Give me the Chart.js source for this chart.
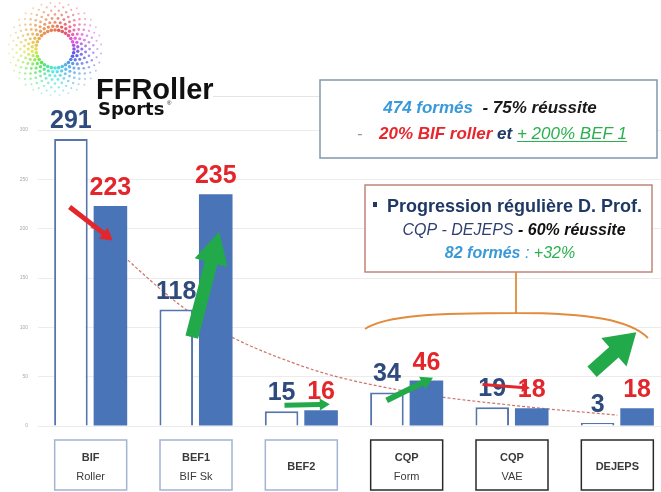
<!DOCTYPE html>
<html lang="fr">
<head>
<meta charset="UTF-8">
<title>Formations FFRoller Sports</title>
<style>
  html, body { margin: 0; padding: 0; background: #fff; overflow: hidden; }
  canvas { display: block; }
</style>
</head>
<body>
<canvas id="chart" width="670" height="492"></canvas>
<script src="https://cdn.jsdelivr.net/npm/chart.js"></script>
<script>
const categories = [['BIF', 'Roller'], ['BEF1', 'BIF Sk'], ['BEF2'], ['CQP', 'Form'], ['CQP', 'VAE'], ['DEJEPS']];
const previousValues = [291, 118, 15, 34, 19, 3];
const currentValues = [223, 235, 16, 46, 18, 18];
const trendValues = [202, 111, 61, 35, 21, 11];
const yTicks = [0, 50, 100, 150, 200, 250, 300];

// arrows in chart units: x = category index (fractional), y = value
const arrows = [
  { from: [-0.2, 222], to: [0.21, 188], shaft: 5, head: 14, len: 12, color: '#e3262b' },
  { from: [0.96, 90], to: [1.22, 197], shaft: 13, head: 34, len: 32, color: '#22aa4a' },
  { from: [1.84, 21], to: [2.27, 22], shaft: 5, head: 12, len: 10, color: '#22aa4a' },
  { from: [2.81, 26], to: [3.25, 49], shaft: 6, head: 14, len: 12, color: '#22aa4a' },
  { from: [3.72, 42], to: [4.17, 38.5], shaft: 3, head: 9, len: 8, color: '#e3262b' },
  { from: [4.76, 55], to: [5.18, 95], shaft: 14, head: 38, len: 30, color: '#22aa4a' }
];

function drawArrow(ctx, x1, y1, x2, y2, shaft, headW, headL, color) {
  const a = Math.atan2(y2 - y1, x2 - x1);
  const len = Math.hypot(x2 - x1, y2 - y1);
  ctx.save();
  ctx.translate(x1, y1);
  ctx.rotate(a);
  ctx.fillStyle = color;
  ctx.beginPath();
  ctx.moveTo(0, -shaft / 2);
  ctx.lineTo(len - headL, -shaft / 2);
  ctx.lineTo(len - headL, -headW / 2);
  ctx.lineTo(len, 0);
  ctx.lineTo(len - headL, headW / 2);
  ctx.lineTo(len - headL, shaft / 2);
  ctx.lineTo(0, shaft / 2);
  ctx.closePath();
  ctx.fill();
  ctx.restore();
}

// draw a line made of coloured pieces
function drawRuns(ctx, runs, x, y, align) {
  let total = 0;
  runs.forEach(r => { ctx.font = r.font; r.w = ctx.measureText(r.text).width; total += r.w; });
  let cx = align === 'center' ? x - total / 2 : x;
  ctx.textAlign = 'left';
  ctx.textBaseline = 'alphabetic';
  runs.forEach(r => {
    ctx.font = r.font;
    ctx.fillStyle = r.color;
    ctx.fillText(r.text, cx, y);
    if (r.underline) {
      ctx.fillRect(cx, y + 2, r.w, 1);
    }
    cx += r.w;
  });
}

function hueAt(ang) {
  const stops = [[0, 15], [45, -25], [90, -100], [135, -150], [180, -180], [225, -240], [270, -305], [315, -330], [360, -345]];
  for (let i = 1; i < stops.length; i++) {
    if (ang <= stops[i][0]) {
      const t = (ang - stops[i - 1][0]) / (stops[i][0] - stops[i - 1][0]);
      return ((stops[i - 1][1] + t * (stops[i][1] - stops[i - 1][1])) % 360 + 360) % 360;
    }
  }
  return 15;
}

function drawLogo(ctx) {
  const cx = 55, cy = 49;
  for (let k = 0; k < 8; k++) {
    const r = 19 + k * 3.9;
    const n = 32;
    const dot = 1.8 - k * 0.12;
    for (let j = 0; j < n; j++) {
      const ang = (j + (k % 2) * 0.5) / n * 360;
      const rad = (ang - 90) * Math.PI / 180;
      ctx.fillStyle = `hsla(${hueAt(ang)}, 75%, 55%, ${0.85 - k * 0.07})`;
      ctx.beginPath();
      ctx.arc(cx + r * Math.cos(rad), cy + r * Math.sin(rad), dot, 0, 2 * Math.PI);
      ctx.fill();
    }
  }
  ctx.fillStyle = '#111';
  ctx.textAlign = 'left';
  ctx.textBaseline = 'alphabetic';
  ctx.font = 'bold 29px "Liberation Sans", Arial, sans-serif';
  ctx.fillText('FFRoller', 96, 99);
  ctx.font = 'bold 18px "DejaVu Sans", sans-serif';
  ctx.fillText('Sports', 98, 115);
  ctx.font = '6px sans-serif';
  ctx.fillText('®', 167, 105);
  ctx.fillStyle = '#e4e4e4';
  ctx.fillRect(213, 96, 107, 1);
}

const decor = {
  id: 'decor',
  afterDatasetsDraw(chart) {
    const ctx = chart.ctx;
    const xs = chart.scales.x, ys = chart.scales.y;
    const step = xs.getPixelForValue(1) - xs.getPixelForValue(0);
    const px = i => xs.getPixelForValue(0) + i * step;

    // value labels
    const labelFont = 'bold 25px "Liberation Sans", Arial, sans-serif';
    [[0, '#2f4a7c'], [1, '#e3262b']].forEach(([d, color]) => {
      chart.getDatasetMeta(d).data.forEach((bar, i) => {
        ctx.font = labelFont;
        ctx.fillStyle = color;
        ctx.textAlign = 'center';
        ctx.textBaseline = 'alphabetic';
        const v = chart.data.datasets[d].data[i];
        ctx.fillText(String(v), bar.x, bar.y - 11);
      });
    });

    arrows.forEach(a => {
      drawArrow(ctx, px(a.from[0]), ys.getPixelForValue(a.from[1]),
        px(a.to[0]), ys.getPixelForValue(a.to[1]), a.shaft, a.head, a.len, a.color);
    });

    // category boxes
    chart.data.labels.forEach((lines, i) => {
      const x = xs.getPixelForValue(i);
      ctx.fillStyle = '#fff';
      ctx.strokeStyle = i < 3 ? '#a3b3d2' : '#2a2a2a';
      ctx.lineWidth = 1.5;
      ctx.fillRect(x - 36, 440, 72, 50);
      ctx.strokeRect(x - 36, 440, 72, 50);
      ctx.fillStyle = '#3a3a3a';
      ctx.textAlign = 'center';
      ctx.textBaseline = 'middle';
      if (lines.length === 1) {
        ctx.font = 'bold 11px "Liberation Sans", Arial, sans-serif';
        ctx.fillText(lines[0], x, 467);
      } else {
        ctx.font = 'bold 11px "Liberation Sans", Arial, sans-serif';
        ctx.fillText(lines[0], x, 458);
        ctx.font = '11px "Liberation Sans", Arial, sans-serif';
        ctx.fillText(lines[1], x, 477);
      }
    });
  },
  afterDraw(chart) {
    const ctx = chart.ctx;
    drawLogo(ctx);

    const f = (style, size) => `${style} ${size}px "Liberation Sans", Arial, sans-serif`;

    // box 1
    ctx.fillStyle = '#fff';
    ctx.fillRect(320, 80, 337, 78);
    ctx.strokeStyle = '#8496b0';
    ctx.lineWidth = 1.5;
    ctx.strokeRect(320, 80, 337, 78);
    drawRuns(ctx, [
      { text: '474 formés', font: f('italic bold', 17), color: '#3a9ad9' },
      { text: '  - 75% réussite', font: f('italic bold', 17), color: '#1a1a1a' }
    ], 490, 113, 'center');
    drawRuns(ctx, [{ text: '-', font: f('italic', 16), color: '#999' }], 357, 139, 'left');
    drawRuns(ctx, [
      { text: '20% BIF roller', font: f('italic bold', 17), color: '#e8262d' },
      { text: ' et ', font: f('italic bold', 17), color: '#1f3864' },
      { text: '+ 200% BEF 1', font: f('italic', 17), color: '#2bb04e', underline: true }
    ], 379, 139, 'left');

    // box 2
    ctx.fillStyle = '#fff';
    ctx.fillRect(365, 185, 287, 87);
    ctx.strokeStyle = '#c0847a';
    ctx.strokeRect(365, 185, 287, 87);
    ctx.fillStyle = '#1f3864';
    ctx.fillRect(373, 202, 4, 5);
    drawRuns(ctx, [{ text: 'Progression régulière D. Prof.', font: f('bold', 18), color: '#1f3864' }], 387, 212, 'left');
    drawRuns(ctx, [
      { text: 'CQP - DEJEPS', font: f('italic', 16), color: '#2f3f6f' },
      { text: ' - 60% réussite', font: f('italic bold', 16), color: '#111' }
    ], 514, 235, 'center');
    drawRuns(ctx, [
      { text: '82 formés', font: f('italic bold', 16), color: '#3a9ad9' },
      { text: ' : ', font: f('italic', 16), color: '#3a9ad9' },
      { text: '+32%', font: f('italic', 16), color: '#2bb04e' }
    ], 510, 258, 'center');

    // orange brace
    ctx.strokeStyle = '#e38b3d';
    ctx.lineWidth = 1.8;
    ctx.beginPath();
    ctx.moveTo(516, 272);
    ctx.lineTo(516, 313);
    ctx.moveTo(365, 329);
    ctx.bezierCurveTo(385, 315, 440, 313, 516, 313);
    ctx.bezierCurveTo(590, 313, 630, 320, 648, 338);
    ctx.stroke();
  }
};

new Chart(document.getElementById('chart'), {
  type: 'bar',
  data: {
    labels: categories,
    datasets: [
      {
        label: 'Avant',
        data: previousValues,
        backgroundColor: '#ffffff',
        borderColor: '#5576ad',
        borderWidth: 2,
        categoryPercentage: 0.75,
        barPercentage: 0.85,
        order: 1
      },
      {
        label: 'Après',
        data: currentValues,
        backgroundColor: '#4a74b8',
        borderWidth: 0,
        categoryPercentage: 0.75,
        barPercentage: 0.85,
        order: 1
      },
      {
        type: 'line',
        label: 'Tendance',
        data: trendValues,
        borderColor: 'rgba(196, 90, 80, 0.85)',
        borderWidth: 1.2,
        borderDash: [3, 2],
        pointRadius: 0,
        cubicInterpolationMode: 'monotone',
        fill: false,
        order: 3
      }
    ]
  },
  options: {
    responsive: false,
    animation: false,
    layout: { padding: { top: 130, left: 0, right: 0, bottom: 0 } },
    plugins: { legend: { display: false }, tooltip: { enabled: false } },
    scales: {
      x: {
        grid: { display: false },
        border: { display: false },
        ticks: { display: false },
        afterFit: s => { s.height = 66; }
      },
      y: {
        min: 0,
        max: 300,
        afterBuildTicks: s => { s.ticks = yTicks.map(v => ({ value: v })); },
        afterFit: s => { s.width = 38; },
        grid: { color: '#ececec', drawTicks: false },
        border: { display: false },
        ticks: { font: { size: 5 }, color: '#aaaaaa', padding: 10 }
      }
    }
  },
  plugins: [decor]
});
</script>
</body>
</html>
